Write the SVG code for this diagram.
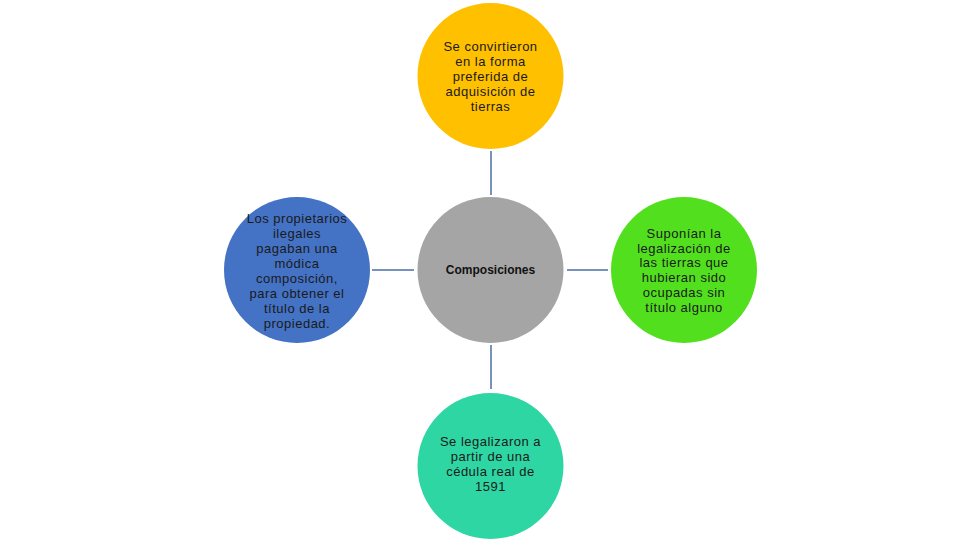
<svg xmlns="http://www.w3.org/2000/svg" width="960" height="540" viewBox="0 0 960 540">
<style>
.t{font-family:"Liberation Sans",Arial,sans-serif;font-size:13px;letter-spacing:0.5px;fill:#1a1a1a;text-anchor:middle}
.b{font-family:"Liberation Sans",Arial,sans-serif;font-size:12px;font-weight:bold;fill:#111;text-anchor:middle}
.c{stroke:#4a6fa5;stroke-width:1.5;fill:none}
</style>
<rect width="960" height="540" fill="#fff"/>
<g id="connectors">
<line class="c" x1="491" y1="151" x2="491" y2="195"/>
<line class="c" x1="372" y1="270" x2="414" y2="270"/>
<line class="c" x1="567" y1="270" x2="608" y2="270"/>
<line class="c" x1="491" y1="345" x2="491" y2="389"/>
</g>
<g id="center">
<circle cx="490.5" cy="270" r="73" fill="#a5a5a5"/>
<text class="b" x="490.5" y="274">Composiciones</text>
</g>
<g id="top">
<circle cx="490.5" cy="76" r="73" fill="#ffc000"/>
<text class="t" x="490.5" y="51">Se convirtieron</text>
<text class="t" x="490.5" y="66">en la forma</text>
<text class="t" x="490.5" y="81">preferida de</text>
<text class="t" x="490.5" y="96">adquisición de</text>
<text class="t" x="490.5" y="111">tierras</text>
</g>
<g id="left">
<circle cx="297" cy="270" r="73" fill="#4472c4"/>
<text class="t" x="297" y="223">Los propietarios</text>
<text class="t" x="297" y="238">ilegales</text>
<text class="t" x="297" y="253">pagaban una</text>
<text class="t" x="297" y="268">módica</text>
<text class="t" x="297" y="283">composición,</text>
<text class="t" x="297" y="298">para obtener el</text>
<text class="t" x="297" y="313">título de la</text>
<text class="t" x="297" y="328">propiedad.</text>
</g>
<g id="right">
<circle cx="684" cy="270" r="73" fill="#52e01e"/>
<text class="t" x="684" y="238">Suponían la</text>
<text class="t" x="684" y="253">legalización de</text>
<text class="t" x="684" y="267">las tierras que</text>
<text class="t" x="684" y="282">hubieran sido</text>
<text class="t" x="684" y="297">ocupadas sin</text>
<text class="t" x="684" y="312">título alguno</text>
</g>
<g id="bottom">
<circle cx="490.5" cy="466" r="73" fill="#2ed6a3"/>
<text class="t" x="490.5" y="446">Se legalizaron a</text>
<text class="t" x="490.5" y="461">partir de una</text>
<text class="t" x="490.5" y="476">cédula real de</text>
<text class="t" x="490.5" y="491">1591</text>
</g>
</svg>
